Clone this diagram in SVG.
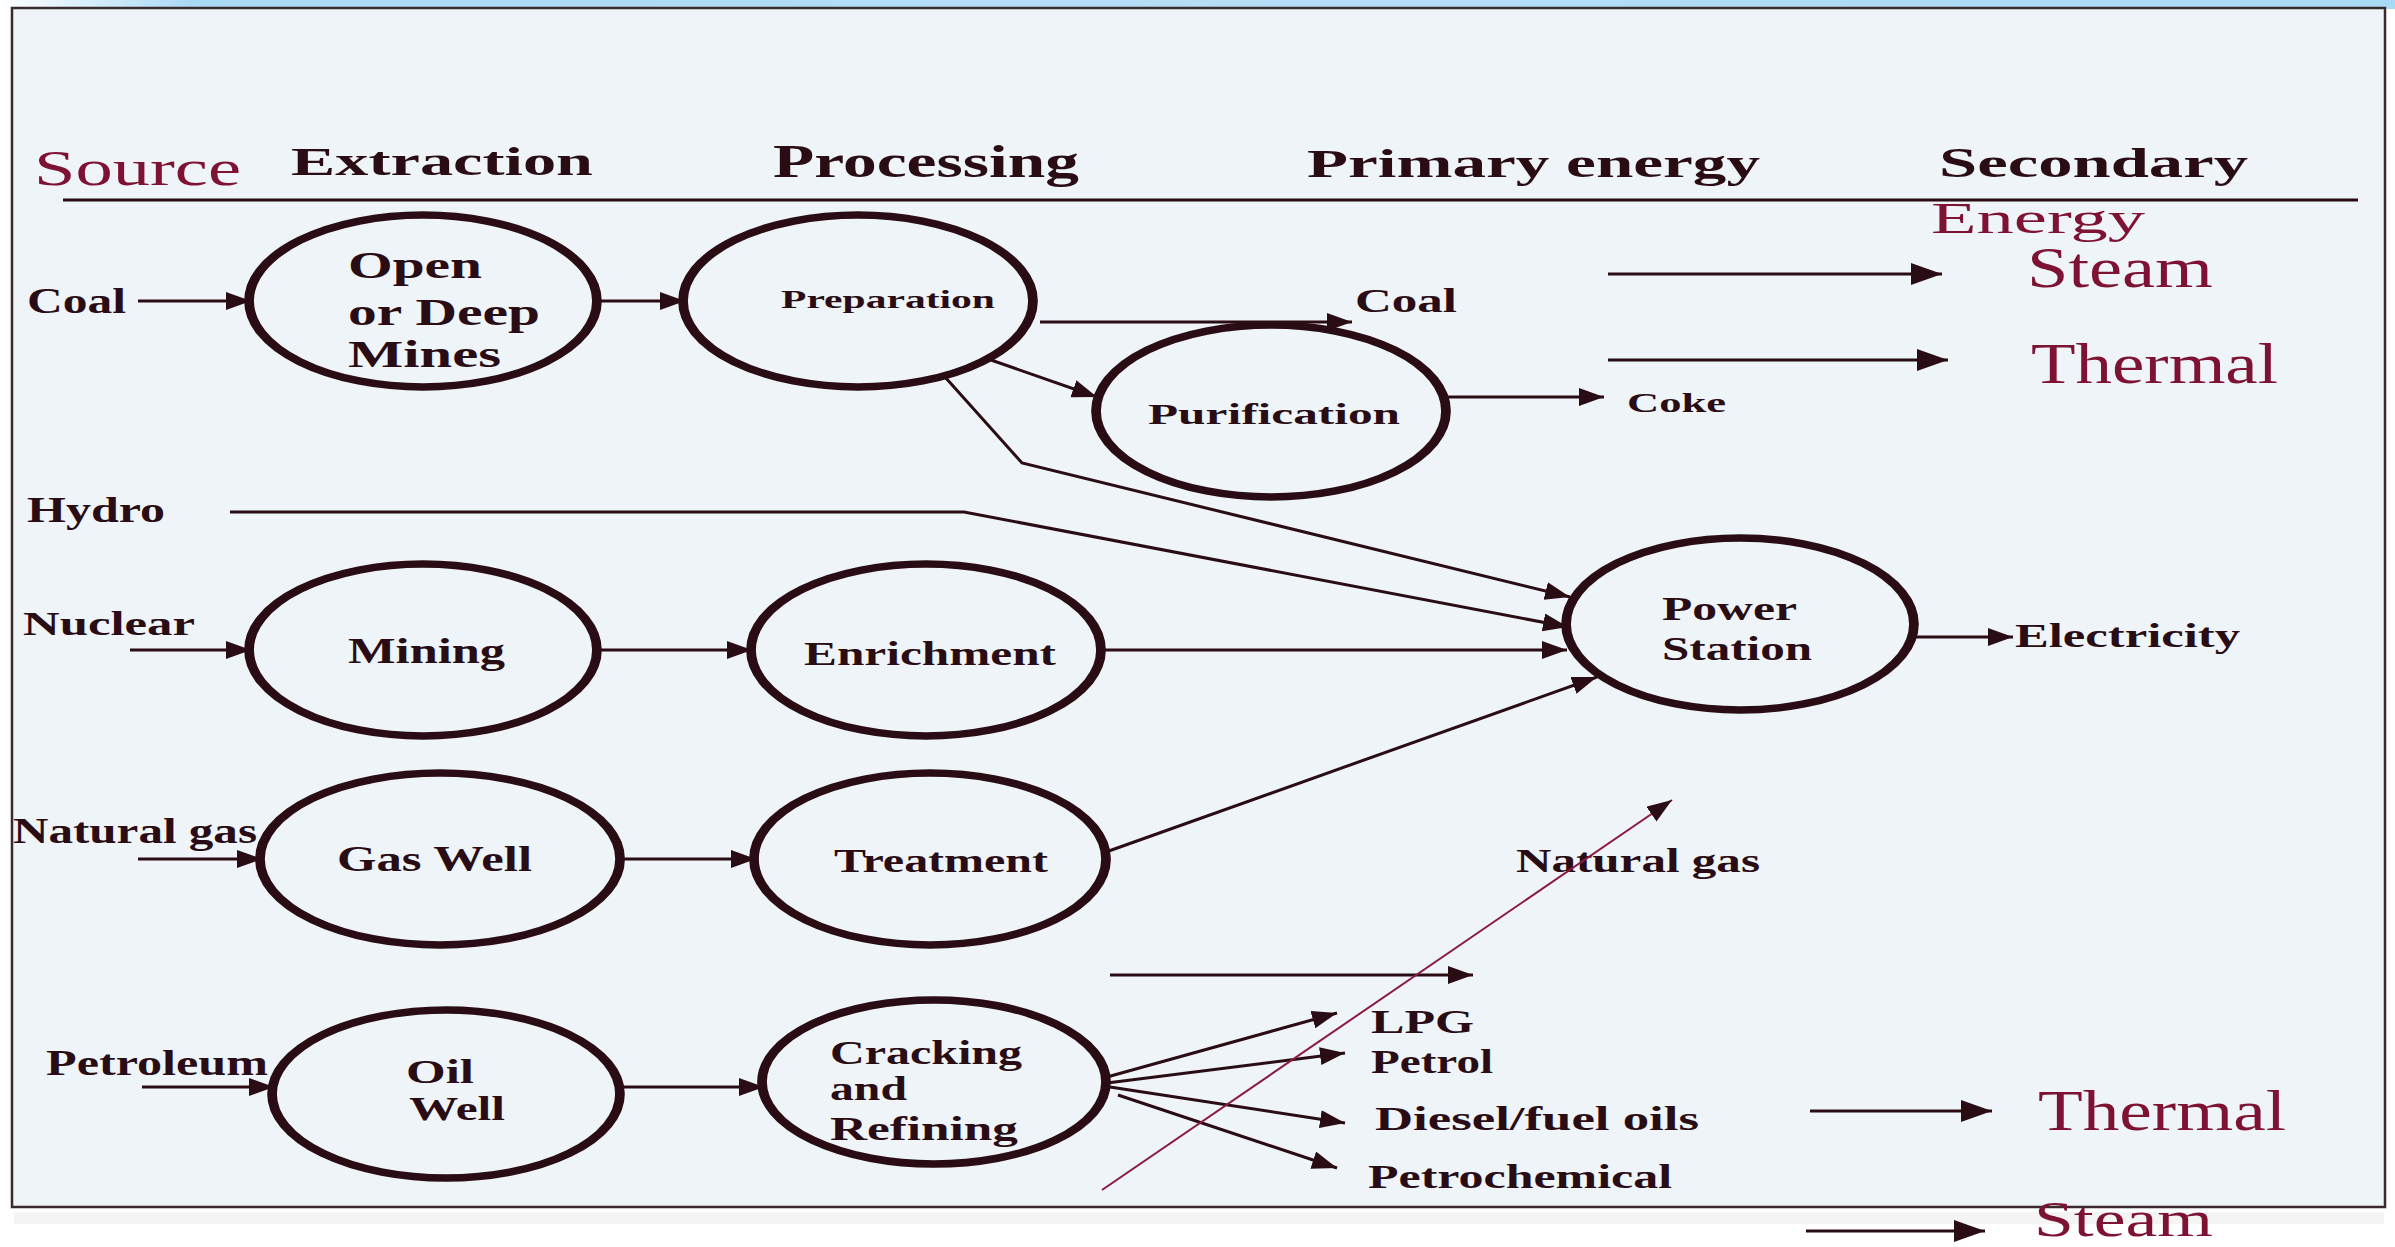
<svg xmlns="http://www.w3.org/2000/svg" width="2395" height="1247" viewBox="0 0 2395 1247">
<defs>
<style>
.nd{fill:none;stroke:#2a0d14;stroke-width:7.5}
.c{fill:none;stroke:#2a0d14;stroke-width:3}
.cs{fill:none;stroke:#2a0d14;stroke-width:3;marker-end:url(#ah)}
.cb{fill:none;stroke:#2a0d14;stroke-width:3;marker-end:url(#ahb)}
.lb{font-family:"Liberation Serif","Times New Roman",serif;font-weight:bold;fill:#2a0d14}
.rd{font-family:"Liberation Serif","Times New Roman",serif;fill:#7e1232}
</style>
<marker id="ah" markerUnits="userSpaceOnUse" markerWidth="26" markerHeight="20" refX="25" refY="9" orient="auto">
<path d="M0,0 L25,9 L0,18 z" fill="#2a0d14"/>
</marker>
<marker id="ahb" markerUnits="userSpaceOnUse" markerWidth="32" markerHeight="24" refX="31" refY="11" orient="auto">
<path d="M0,0 L31,11 L0,22 z" fill="#2a0d14"/>
</marker>
<linearGradient id="topband" x1="0" y1="0" x2="1" y2="0">
<stop offset="0" stop-color="#ffffff"/>
<stop offset="0.08" stop-color="#a9daf5"/>
<stop offset="0.5" stop-color="#b5def5"/>
<stop offset="1" stop-color="#a9daf5"/>
</linearGradient>
</defs>
<rect x="0" y="0" width="2395" height="1247" fill="#ffffff"/>
<rect x="0" y="0" width="2395" height="9" fill="url(#topband)"/>
<rect x="12" y="8" width="2373" height="1199" fill="#eef4f7" stroke="#3a2a2e" stroke-width="2.5"/>
<rect x="14" y="1212" width="2370" height="12" fill="#f4f4f4"/>

<g id="headers">
<text class="rd" x="34" y="185" font-size="50" textLength="207" lengthAdjust="spacingAndGlyphs" fill="#8e1b40">Source</text>
<text class="lb" x="291" y="175" font-size="40" textLength="302" lengthAdjust="spacingAndGlyphs">Extraction</text>
<text class="lb" x="773" y="177" font-size="46" textLength="306" lengthAdjust="spacingAndGlyphs">Processing</text>
<text class="lb" x="1307" y="177" font-size="40" textLength="453" lengthAdjust="spacingAndGlyphs">Primary energy</text>
<text class="lb" x="1939" y="177" font-size="42" textLength="309" lengthAdjust="spacingAndGlyphs">Secondary</text>
<text class="rd" x="1931" y="233" font-size="45" textLength="214" lengthAdjust="spacingAndGlyphs">Energy</text>
<line x1="63" y1="200" x2="2358" y2="200" stroke="#2a0d14" stroke-width="3"/>
</g>

<g id="sources">
<text class="lb" x="27" y="313" font-size="36" textLength="99" lengthAdjust="spacingAndGlyphs">Coal</text>
<text class="lb" x="27" y="522" font-size="36" textLength="138" lengthAdjust="spacingAndGlyphs">Hydro</text>
<text class="lb" x="23" y="635" font-size="33" textLength="172" lengthAdjust="spacingAndGlyphs">Nuclear</text>
<text class="lb" x="13" y="843" font-size="36" textLength="244" lengthAdjust="spacingAndGlyphs">Natural gas</text>
<text class="lb" x="46" y="1075" font-size="36" textLength="222" lengthAdjust="spacingAndGlyphs">Petroleum</text>
</g>

<g id="node-mines">
<ellipse class="nd" cx="0" cy="0" rx="133.8" ry="86" transform="translate(423,301) scale(1.3,1)"/>
<text class="lb" x="348" y="278" font-size="38" textLength="134" lengthAdjust="spacingAndGlyphs">Open</text>
<text class="lb" x="348" y="325" font-size="38" textLength="192" lengthAdjust="spacingAndGlyphs">or Deep</text>
<text class="lb" x="348" y="367" font-size="38" textLength="153" lengthAdjust="spacingAndGlyphs">Mines</text>
</g>
<g id="node-preparation">
<ellipse class="nd" cx="0" cy="0" rx="134.6" ry="86" transform="translate(858,301) scale(1.3,1)"/>
<text class="lb" x="781" y="308" font-size="26" textLength="214" lengthAdjust="spacingAndGlyphs">Preparation</text>
</g>
<g id="node-purification">
<ellipse class="nd" cx="0" cy="0" rx="134.6" ry="86" transform="translate(1271,411) scale(1.3,1)"/>
<text class="lb" x="1148" y="424" font-size="30" textLength="252" lengthAdjust="spacingAndGlyphs">Purification</text>
</g>
<g id="node-power">
<ellipse class="nd" cx="0" cy="0" rx="133.8" ry="86" transform="translate(1740,624) scale(1.3,1)"/>
<text class="lb" x="1662" y="620" font-size="33" textLength="135" lengthAdjust="spacingAndGlyphs">Power</text>
<text class="lb" x="1662" y="660" font-size="33" textLength="150" lengthAdjust="spacingAndGlyphs">Station</text>
</g>
<g id="node-mining">
<ellipse class="nd" cx="0" cy="0" rx="133.8" ry="86" transform="translate(423,650) scale(1.3,1)"/>
<text class="lb" x="348" y="663" font-size="36" textLength="157" lengthAdjust="spacingAndGlyphs">Mining</text>
</g>
<g id="node-enrichment">
<ellipse class="nd" cx="0" cy="0" rx="134.6" ry="86" transform="translate(926,650) scale(1.3,1)"/>
<text class="lb" x="804" y="665" font-size="33" textLength="252" lengthAdjust="spacingAndGlyphs">Enrichment</text>
</g>
<g id="node-gaswell">
<ellipse class="nd" cx="0" cy="0" rx="138.5" ry="86" transform="translate(440,859) scale(1.3,1)"/>
<text class="lb" x="337" y="871" font-size="35" textLength="195" lengthAdjust="spacingAndGlyphs">Gas Well</text>
</g>
<g id="node-treatment">
<ellipse class="nd" cx="0" cy="0" rx="135.4" ry="86" transform="translate(930,859) scale(1.3,1)"/>
<text class="lb" x="834" y="872" font-size="34" textLength="214" lengthAdjust="spacingAndGlyphs">Treatment</text>
</g>
<g id="node-oilwell">
<ellipse class="nd" cx="0" cy="0" rx="133.8" ry="84" transform="translate(446,1094) scale(1.3,1)"/>
<text class="lb" x="406" y="1083" font-size="34" textLength="68" lengthAdjust="spacingAndGlyphs">Oil</text>
<text class="lb" x="409" y="1120" font-size="34" textLength="96" lengthAdjust="spacingAndGlyphs">Well</text>
</g>
<g id="node-cracking">
<ellipse class="nd" cx="0" cy="0" rx="132.3" ry="82" transform="translate(934,1082) scale(1.3,1)"/>
<text class="lb" x="830" y="1064" font-size="34" textLength="192" lengthAdjust="spacingAndGlyphs">Cracking</text>
<text class="lb" x="830" y="1100" font-size="34" textLength="77" lengthAdjust="spacingAndGlyphs">and</text>
<text class="lb" x="830" y="1140" font-size="34" textLength="188" lengthAdjust="spacingAndGlyphs">Refining</text>
</g>

<g id="outputs">
<text class="lb" x="1355" y="312" font-size="33" textLength="102" lengthAdjust="spacingAndGlyphs">Coal</text>
<text class="lb" x="1627" y="412" font-size="28" textLength="99" lengthAdjust="spacingAndGlyphs">Coke</text>
<text class="lb" x="2015" y="647" font-size="33" textLength="225" lengthAdjust="spacingAndGlyphs">Electricity</text>
<text class="lb" x="1516" y="872" font-size="33" textLength="244" lengthAdjust="spacingAndGlyphs">Natural gas</text>
<text class="lb" x="1371" y="1033" font-size="33" textLength="103" lengthAdjust="spacingAndGlyphs">LPG</text>
<text class="lb" x="1371" y="1073" font-size="33" textLength="122" lengthAdjust="spacingAndGlyphs">Petrol</text>
<text class="lb" x="1375" y="1130" font-size="33" textLength="324" lengthAdjust="spacingAndGlyphs">Diesel/fuel oils</text>
<text class="lb" x="1368" y="1188" font-size="33" textLength="304" lengthAdjust="spacingAndGlyphs">Petrochemical</text>
<text class="rd" x="2027" y="287" font-size="57" textLength="186" lengthAdjust="spacingAndGlyphs">Steam</text>
<text class="rd" x="2031" y="383" font-size="57" textLength="247" lengthAdjust="spacingAndGlyphs">Thermal</text>
<text class="rd" x="2038" y="1130" font-size="57" textLength="248" lengthAdjust="spacingAndGlyphs">Thermal</text>
<text class="rd" x="2034" y="1236" font-size="50" textLength="179" lengthAdjust="spacingAndGlyphs">Steam</text>
</g>

<g id="connectors">
<line class="cs" x1="138" y1="301" x2="251" y2="301"/>
<line class="cs" x1="601" y1="301" x2="685" y2="301"/>
<line class="cs" x1="1040" y1="322" x2="1352" y2="322"/>
<line class="cs" x1="991" y1="360" x2="1097" y2="397"/>
<line class="cs" x1="1447" y1="397" x2="1604" y2="397"/>
<polyline class="cs" points="945,377 1022,463 1570,597"/>
<polyline class="cs" points="230,512 964,512 1568,627"/>
<line class="cs" x1="130" y1="650" x2="251" y2="650"/>
<line class="cs" x1="601" y1="650" x2="752" y2="650"/>
<line class="cs" x1="1102" y1="650" x2="1567" y2="650"/>
<line class="cs" x1="138" y1="859" x2="262" y2="859"/>
<line class="cs" x1="620" y1="859" x2="756" y2="859"/>
<line class="cs" x1="1106" y1="852" x2="1597" y2="677"/>
<line class="cs" x1="1914" y1="637" x2="2013" y2="637"/>
<line class="cs" x1="142" y1="1087" x2="274" y2="1087"/>
<line class="cs" x1="620" y1="1087" x2="764" y2="1087"/>
<line class="cs" x1="1110" y1="975" x2="1473" y2="975"/>
<line class="cs" x1="1107" y1="1077" x2="1337" y2="1013"/>
<line class="cs" x1="1107" y1="1083" x2="1345" y2="1053"/>
<line class="cs" x1="1110" y1="1087" x2="1345" y2="1123"/>
<line class="cs" x1="1118" y1="1095" x2="1337" y2="1168"/>
<line fill="none" stroke="#8b1a40" stroke-width="2" marker-end="url(#ah)" x1="1102" y1="1190" x2="1672" y2="800"/>
<line class="cb" x1="1608" y1="274" x2="1942" y2="274"/>
<line class="cb" x1="1608" y1="360" x2="1948" y2="360"/>
<line class="cb" x1="1810" y1="1111" x2="1992" y2="1111"/>
<line class="cb" x1="1806" y1="1231" x2="1985" y2="1231"/>
</g>
</svg>
